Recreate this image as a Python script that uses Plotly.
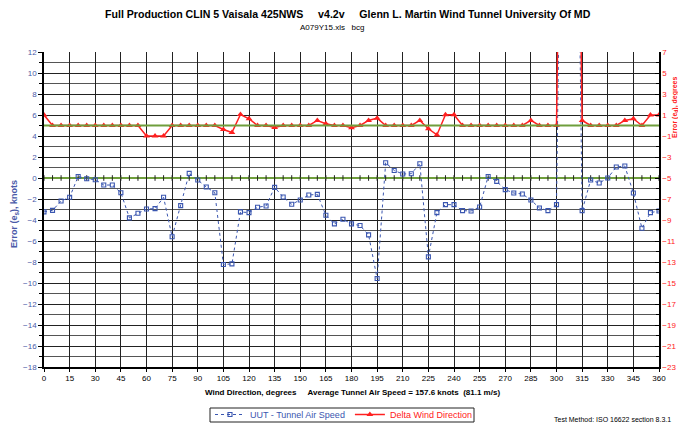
import plotly.graph_objects as go

wind_dir = [0, 5, 10, 15, 20, 25, 30, 35, 40, 45, 50, 55, 60, 65, 70, 75, 80, 85, 90, 95,
            100, 105, 110, 115, 120, 125, 130, 135, 140, 145, 150, 155, 160, 165, 170, 175,
            180, 185, 190, 195, 200, 205, 210, 215, 220, 225, 230, 235, 240, 245, 250, 255,
            260, 265, 270, 275, 280, 285, 290, 295, 300, 305, 310, 315, 320, 325, 330, 335,
            340, 345, 350, 355, 360]

speed_err = [-3.23, -3.08, -2.19, -1.84, 0.15, -0.07, -0.16, -0.67, -0.67, -1.40,
             -3.80, -3.36, -2.95, -2.92, -1.84, -5.60, -2.63, 0.44, -0.19, -0.86,
             -1.40, -8.24, -8.18, -3.23, -3.30, -2.79, -2.66, -0.89, -1.81, -2.50,
             -2.09, -1.62, -1.56, -3.55, -4.37, -3.93, -4.37, -4.53, -5.42, -9.57,
             1.45, 0.72, 0.38, 0.41, 1.36, -7.51, -3.30, -2.54, -2.54, -3.11,
             -3.14, -2.76, 0.15, -0.32, -1.11, -1.43, -1.52, -2.09, -2.85, -3.11,
             -2.54, 60.0, 60.0, -3.11, -0.19, -0.48, 0.00, 1.05, 1.14, -1.43,
             -4.78, -3.30, -3.14]

dir_err = [1.00, 0, 0, 0, 0, 0, 0, 0, 0, 0,
           0, 0, -1.00, -1.00, -1.00, 0, 0, 0, 0, 0,
           0, -0.38, -0.67, 1.05, 0.64, 0, 0, -0.19, 0, 0,
           0, 0, 0.48, 0.16, 0, 0, -0.22, 0, 0.48, 0.70,
           0, 0, 0, 0, 0.48, -0.31, -0.90, 1.02, 1.02, 0,
           0, 0, 0, 0, 0, 0, 0, 0.48, 0, 0,
           0, 60.0, 60.0, 0.48, 0, 0, 0, 0, 0.48, 0.64,
           0, 1.00, 1.00]

zero_ref = [0] * len(wind_dir)

x_ticks = [0, 15, 30, 45, 60, 75, 90, 105, 120, 135, 150, 165, 180, 195, 210, 225,
           240, 255, 270, 285, 300, 315, 330, 345, 360]

FONT = "Liberation Sans, Arial, sans-serif"
BLUE = "#3a56b0"
RED = "#ff2020"
GREEN = "#6f9e3c"

# plot area in pixels
L, R, T, B = 44, 659, 52, 367
W, H = 678, 423

fig = go.Figure()

fig.add_shape(type="line", xref="x", yref="y", x0=0, x1=360, y0=5, y1=5,
              line=dict(color=GREEN, width=2), layer="above")
fig.add_trace(go.Scatter(x=wind_dir, y=zero_ref, mode="lines+markers",
                         line=dict(color=GREEN, width=2),
                         marker=dict(symbol="line-ns", size=4, line=dict(color="#222", width=1)),
                         showlegend=False, hoverinfo="skip"))

fig.add_trace(go.Scatter(
    x=wind_dir, y=speed_err, mode="lines+markers",
    name='<span style="color:#3a56b0">UUT - Tunnel Air Speed</span>',
    line=dict(color=BLUE, width=1, dash="dot"),
    marker=dict(symbol="square-open", size=4, color=BLUE, line=dict(width=1.1, color=BLUE)),
    yaxis="y"))

fig.add_trace(go.Scatter(
    x=wind_dir, y=dir_err, mode="lines+markers",
    name='<span style="color:#ff2020">Delta Wind Direction</span>',
    line=dict(color=RED, width=1.5),
    marker=dict(symbol="triangle-up", size=6, color=RED),
    yaxis="y2"))


def px_x(x):
    return (x - L) / (R - L)


def px_y(y):
    return (B - y) / (B - T)


# legend frame (compact box as in the reference)
fig.add_shape(type="rect", xref="paper", yref="paper",
              x0=px_x(210), x1=px_x(474), y0=px_y(422), y1=px_y(408),
              line=dict(color="#222", width=1), fillcolor="rgba(0,0,0,0)")

fig.update_layout(
    width=W, height=H,
    margin=dict(l=L, r=W - R, t=T, b=H - B, autoexpand=False),
    paper_bgcolor="white", plot_bgcolor="white",
    font=dict(family=FONT, size=8, color="black"),
    showlegend=True,
    legend=dict(orientation="h", x=px_x(210), y=px_y(400), xanchor="left", yanchor="top",
                borderwidth=0, font=dict(size=9, family=FONT),
                itemwidth=30, tracegroupgap=0, bgcolor="rgba(0,0,0,0)"),
    xaxis=dict(range=[0, 360], tickvals=x_ticks, showgrid=True, gridcolor="#222",
               gridwidth=1, showline=True, linecolor="black", linewidth=1.5,
               ticks="outside", ticklen=3, tickcolor="black", zeroline=False,
               automargin=False,
               tickfont=dict(size=8, color="black", family=FONT)),
    yaxis=dict(range=[-18, 12], dtick=2, tick0=0, showgrid=True, gridcolor="#222",
               gridwidth=1, showline=True, linecolor="black", linewidth=1.5,
               ticks="outside", ticklen=4, tickcolor="black", zeroline=False,
               automargin=False,
               tickfont=dict(size=8, color="#4a5aa8", family=FONT),
               minor=dict(dtick=1, showgrid=True, gridcolor="#555", gridwidth=1,
                          ticks="outside", ticklen=3, tickcolor="black")),
    yaxis2=dict(range=[-23, 7], dtick=2, tick0=1, overlaying="y", side="right",
                showgrid=False, showline=True, linecolor="black", linewidth=1.5,
                ticks="inside", ticklen=4, tickcolor="black", zeroline=False,
                automargin=False,
                tickfont=dict(size=8, color=RED, family=FONT),
                minor=dict(dtick=1, ticks="inside", ticklen=3, tickcolor="black")),
)

NB = "\u00a0"
ann = [
    dict(text="<b>Full Production CLIN 5 Vaisala 425NWS" + NB * 5 + "v4.2v" + NB * 5 +
              "Glenn L. Martin Wind Tunnel University Of MD</b>",
         x=348, y=14, font=dict(size=10.6)),
    dict(text="A079Y15.xls" + NB * 3 + "bcg", x=332, y=27, font=dict(size=8)),
    dict(text="<b>Wind Direction, degrees" + NB * 5 +
              "Average Tunnel Air Speed = 157.6 knots" + NB * 2 + "(81.1 m/s)</b>",
         x=352, y=392, font=dict(size=8)),
    dict(text="Test Method: ISO 16622 section 8.3.1", x=612, y=419, font=dict(size=7)),
    dict(text="<b>Error (e<sub>s</sub>), knots</b>", x=15, y=214, textangle=-90,
         font=dict(size=9, color="#4a5aa8")),
    dict(text="<b>Error (e<sub>d</sub>), degrees</b>", x=675, y=108, textangle=-90,
         font=dict(size=7, color=RED)),
]
for a in ann:
    fx = px_x(a.pop("x"))
    fy = px_y(a.pop("y"))
    fig.add_annotation(xref="paper", yref="paper", x=fx, y=fy, showarrow=False,
                       xanchor="center", yanchor="middle", **a)

fig.write_html("out.html", config={"displayModeBar": False},
               post_script="document.body.style.margin='0px';document.body.style.overflow='hidden';")
